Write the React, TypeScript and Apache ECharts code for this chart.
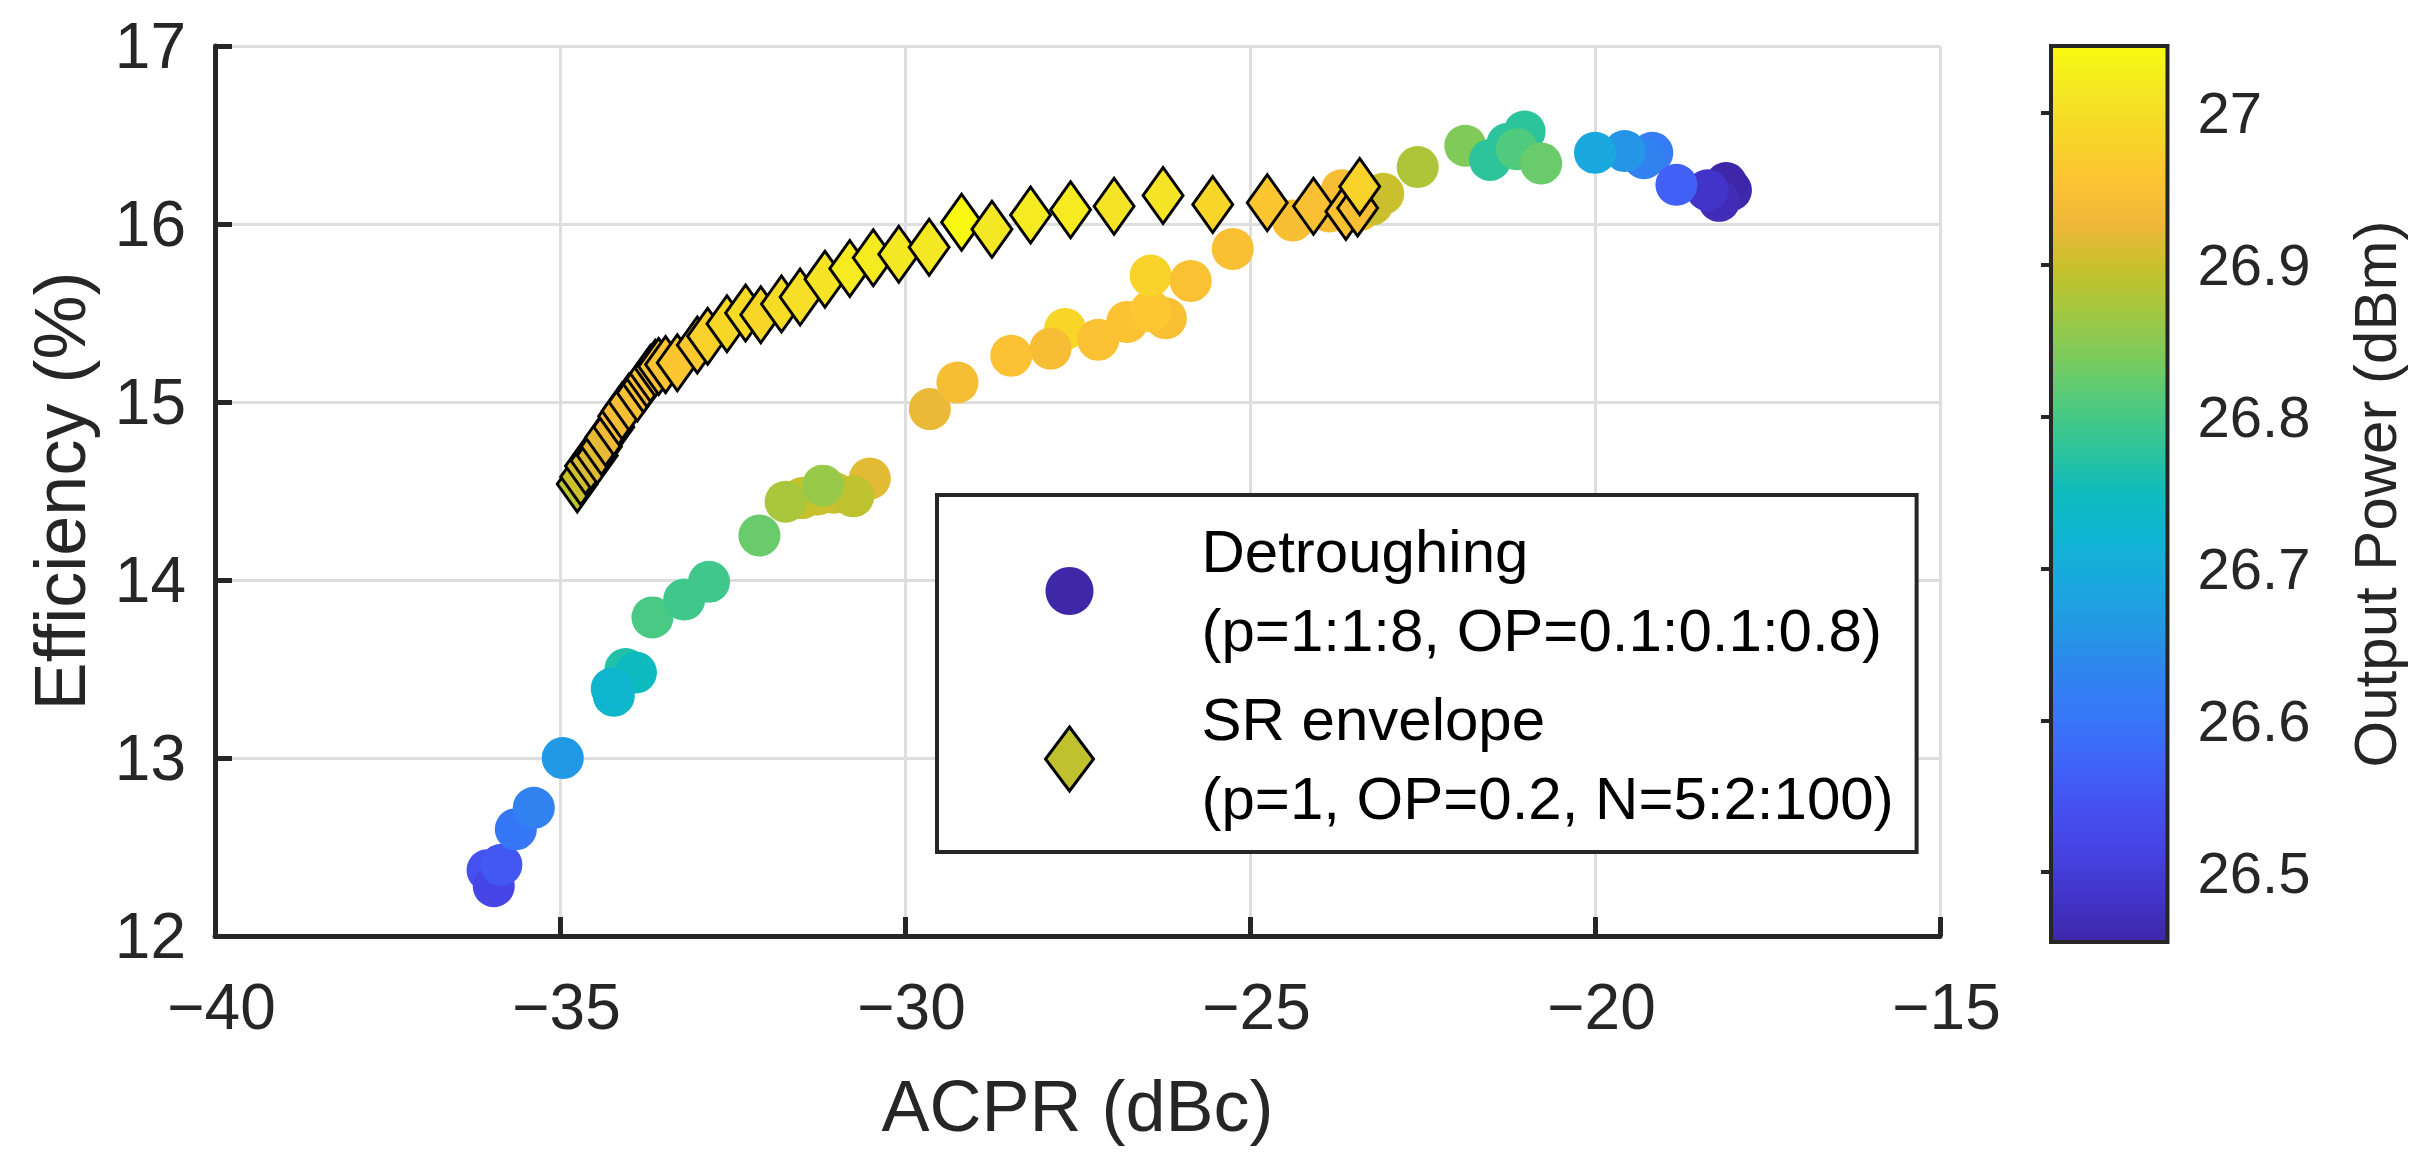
import { useEffect, useRef } from "react";
import * as echarts from "echarts";

// Detroughing (p=1:1:8, OP=0.1:0.1:0.8): [ACPR dBc, efficiency %, output power dBm]
const detroughing = [
  [-36.05, 12.37, 26.543],
  [-35.96, 12.28, 26.519],
  [-35.85, 12.4, 26.554],
  [-35.64, 12.6, 26.604],
  [-35.38, 12.72, 26.625],
  [-34.96, 13.0, 26.663],
  [-34.05, 13.5, 26.767],
  [-33.9, 13.48, 26.749],
  [-34.22, 13.35, 26.731],
  [-34.25, 13.39, 26.725],
  [-33.66, 13.79, 26.802],
  [-33.2, 13.89, 26.793],
  [-32.84, 13.99, 26.793],
  [-32.11, 14.25, 26.826],
  [-30.51, 14.57, 26.917],
  [-31.49, 14.46, 26.898],
  [-31.27, 14.48, 26.898],
  [-31.03, 14.49, 26.901],
  [-30.75, 14.47, 26.891],
  [-31.73, 14.44, 26.873],
  [-31.19, 14.53, 26.861],
  [-29.64, 14.96, 26.923],
  [-29.24, 15.11, 26.941],
  [-28.46, 15.26, 26.953],
  [-27.68, 15.41, 26.985],
  [-27.89, 15.3, 26.943],
  [-27.2, 15.35, 26.95],
  [-26.78, 15.45, 26.954],
  [-26.22, 15.47, 26.948],
  [-26.44, 15.51, 26.961],
  [-26.44, 15.71, 26.979],
  [-25.86, 15.68, 26.95],
  [-25.25, 15.86, 26.948],
  [-24.38, 16.02, 26.945],
  [-23.67, 16.19, 26.943],
  [-23.85, 16.07, 26.943],
  [-23.4, 16.08, 26.943],
  [-23.23, 16.11, 26.9],
  [-23.07, 16.17, 26.9],
  [-22.57, 16.32, 26.879],
  [-21.88, 16.44, 26.843],
  [-21.52, 16.36, 26.778],
  [-21.27, 16.45, 26.778],
  [-21.02, 16.52, 26.777],
  [-21.13, 16.42, 26.808],
  [-20.78, 16.34, 26.826],
  [-18.03, 16.19, 26.458],
  [-18.1, 16.23, 26.455],
  [-18.2, 16.13, 26.466],
  [-18.37, 16.19, 26.484],
  [-19.17, 16.4, 26.613],
  [-19.29, 16.37, 26.625],
  [-19.57, 16.41, 26.658],
  [-20.0, 16.4, 26.693],
  [-18.82, 16.22, 26.566],
];

// SR envelope (p=1, OP=0.2, N=5:2:100)
const srEnvelope = [
  [-34.75, 14.54, 26.89],
  [-34.7, 14.58, 26.9],
  [-34.63, 14.64, 26.905],
  [-34.55, 14.67, 26.912],
  [-34.46, 14.7, 26.915],
  [-34.4, 14.75, 26.918],
  [-34.34, 14.8, 26.92],
  [-34.22, 14.86, 26.93],
  [-34.15, 14.92, 26.936],
  [-34.1, 14.95, 26.94],
  [-34.0, 15.0, 26.942],
  [-33.88, 15.05, 26.944],
  [-33.79, 15.1, 26.947],
  [-33.74, 15.13, 26.948],
  [-33.69, 15.16, 26.95],
  [-33.62, 15.19, 26.952],
  [-33.57, 15.2, 26.954],
  [-33.47, 15.21, 26.956],
  [-33.3, 15.22, 26.96],
  [-33.01, 15.32, 26.965],
  [-32.86, 15.37, 26.975],
  [-32.58, 15.44, 26.985],
  [-32.31, 15.5, 26.99],
  [-32.09, 15.49, 26.985],
  [-31.79, 15.55, 26.995],
  [-31.52, 15.59, 27.0],
  [-31.16, 15.69, 27.01],
  [-30.8, 15.75, 27.02],
  [-30.46, 15.81, 27.02],
  [-30.09, 15.83, 27.015],
  [-29.65, 15.87, 27.015],
  [-29.18, 16.01, 27.04],
  [-28.74, 15.97, 27.015],
  [-28.18, 16.05, 27.02],
  [-27.6, 16.08, 27.02],
  [-26.97, 16.1, 27.01],
  [-26.26, 16.16, 27.008],
  [-25.54, 16.11, 26.983],
  [-24.75, 16.12, 26.96],
  [-24.08, 16.1, 26.948],
  [-23.61, 16.07, 26.95],
  [-23.44, 16.09, 26.945],
  [-23.41, 16.21, 26.98],
];

const powerMin = 26.454;
const powerMax = 27.044;
const colorbarTicks = [26.5, 26.6, 26.7, 26.8, 26.9, 27];

// parula-like colormap, evenly spaced from powerMin to powerMax
const parula = [
  "#3e26a8", "#4234c9", "#4643e3", "#4550f0", "#3f64f8", "#3776f8", "#2f84ef",
  "#2398e4", "#1aa8df", "#10b4d3", "#0dbbbe", "#2ec49b", "#50ca7d", "#79cb5e",
  "#a0c842", "#c5c12b", "#eeb838", "#fdc332", "#f8d628", "#f4e724", "#f9fb0e",
];

const nameDetroughing = "Detroughing\n(p=1:1:8, OP=0.1:0.1:0.8)";
const nameSR = "SR envelope\n(p=1, OP=0.2, N=5:2:100)";

const FONT = "Liberation Sans, Arial, sans-serif";
const AXIS = "#262626";
const minus = (v: number) => (v < 0 ? "\u2212" + Math.abs(v) : String(v));

const App = () => {
  const chartRef = useRef<HTMLDivElement>(null);

  useEffect(() => {
    document.body.style.margin = "0";
    document.body.style.overflow = "hidden";
    if (!chartRef.current) return;
    const chart = echarts.init(chartRef.current, null, { renderer: "svg" });
    const stops = parula.map((c, i) => ({ offset: i / (parula.length - 1), color: c }));

    chart.setOption({
      animation: false,
      backgroundColor: "#fff",
      textStyle: { fontFamily: FONT },
      grid: [
        { left: 215, top: 46, width: 1725, height: 890, outerBoundsMode: "none" },
        { left: 2051, top: 46, width: 116.5, height: 896, outerBoundsMode: "none" },
      ],
      xAxis: [
        {
          type: "value",
          gridIndex: 0,
          min: -40,
          max: -15,
          interval: 5,
          axisLine: { lineStyle: { color: AXIS, width: 5 } },
          axisTick: { inside: true, length: 19, lineStyle: { color: AXIS, width: 5 } },
          axisLabel: {
            fontSize: 64,
            color: AXIS,
            margin: 39,
            padding: [0, 0, 0, 13],
            formatter: minus,
          },
          splitLine: { show: true, lineStyle: { color: "#dedede", width: 3 } },
          name: "ACPR (dBc)",
          nameLocation: "middle",
          nameGap: 134,
          nameTextStyle: { fontSize: 72, color: AXIS },
        },
        { type: "value", gridIndex: 1, min: 0, max: 1, show: false },
      ],
      yAxis: [
        {
          type: "value",
          gridIndex: 0,
          min: 12,
          max: 17,
          interval: 1,
          axisLine: { show: true, lineStyle: { color: AXIS, width: 5 } },
          axisTick: { show: true, inside: true, length: 17, lineStyle: { color: AXIS, width: 5 } },
          axisLabel: { fontSize: 64, color: AXIS, margin: 29 },
          splitLine: { show: true, lineStyle: { color: "#dedede", width: 3 } },
          name: "Efficiency (%)",
          nameLocation: "middle",
          nameGap: 119,
          nameTextStyle: { fontSize: 72, color: AXIS },
        },
        {
          type: "value",
          gridIndex: 1,
          position: "right",
          min: powerMin,
          max: powerMax,
          z: 5,
          axisLine: { show: false },
          axisTick: {
            show: true,
            inside: true,
            length: 10,
            customValues: colorbarTicks,
            lineStyle: { color: AXIS, width: 4 },
          },
          axisLabel: {
            fontSize: 58,
            color: AXIS,
            margin: 30,
            customValues: colorbarTicks,
          },
          splitLine: { show: false },
          name: "Output Power (dBm)",
          nameLocation: "middle",
          nameRotate: 90,
          nameGap: 178,
          nameTextStyle: { fontSize: 60, color: AXIS },
        },
      ],
      visualMap: {
        type: "continuous",
        show: false,
        min: powerMin,
        max: powerMax,
        dimension: 2,
        seriesIndex: [0, 1],
        inRange: { color: parula },
      },
      legend: {
        orient: "vertical",
        left: 937,
        top: 495,
        selectedMode: false,
        itemWidth: 48,
        itemHeight: 64,
        itemGap: 10,
        padding: [17, 23, 14, 107],
        borderColor: AXIS,
        borderWidth: 4,
        borderRadius: 0,
        backgroundColor: "#fff",
        textStyle: {
          fontSize: 60,
          lineHeight: 79,
          color: "#000",
          padding: [0, 0, 0, 103],
        },
        data: [
          { name: nameDetroughing, icon: "circle", itemStyle: { color: "#3e28a8", borderWidth: 0 } },
          {
            name: nameSR,
            icon: "diamond",
            itemStyle: { color: "#bfc12e", borderColor: "#000", borderWidth: 3 },
          },
        ],
      },
      series: [
        {
          name: nameDetroughing,
          type: "scatter",
          xAxisIndex: 0,
          yAxisIndex: 0,
          symbol: "circle",
          symbolSize: 42,
          itemStyle: { color: "#3e28a8", opacity: 1 },
          data: detroughing,
        },
        {
          name: nameSR,
          type: "scatter",
          xAxisIndex: 0,
          yAxisIndex: 0,
          symbol: "diamond",
          symbolSize: [40, 56],
          itemStyle: { color: "#bfc12e", borderColor: "#000", borderWidth: 3, opacity: 1 },
          data: srEnvelope,
        },
        {
          type: "custom",
          xAxisIndex: 1,
          yAxisIndex: 1,
          silent: true,
          data: [[0, powerMin, powerMax]],
          renderItem: (_params: any, api: any) => {
            const p0 = api.coord([0, api.value(1)]);
            const p1 = api.coord([1, api.value(2)]);
            const shape = { x: p0[0], y: p1[1], width: p1[0] - p0[0], height: p0[1] - p1[1] };
            return {
              type: "group",
              children: [
                {
                  type: "rect",
                  shape,
                  style: { fill: new echarts.graphic.LinearGradient(0, 1, 0, 0, stops) },
                },
                { type: "rect", shape, style: { fill: "none", stroke: AXIS, lineWidth: 4 } },
              ],
            };
          },
        },
      ],
    });

    return () => {
      chart.dispose();
    };
  }, []);

  return <div ref={chartRef} style={{ width: "2430px", height: "1168px" }}></div>;
};

export default App;
